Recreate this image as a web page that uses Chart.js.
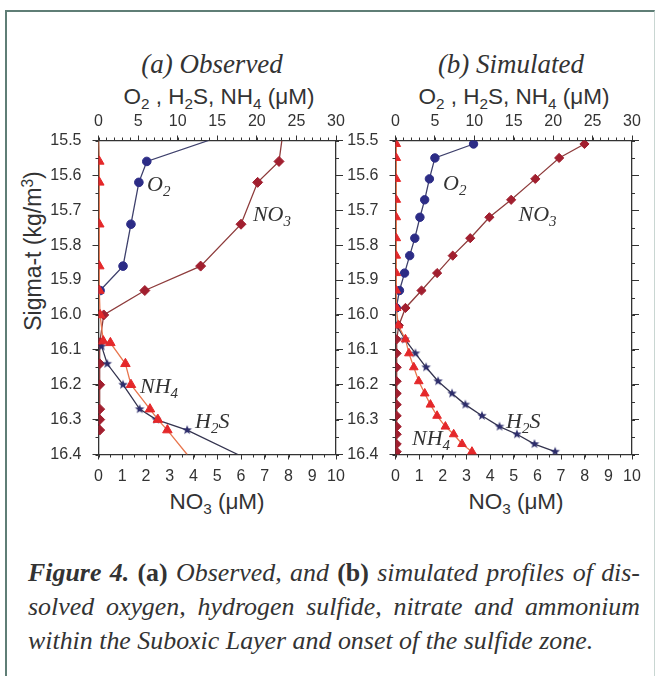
<!DOCTYPE html>
<html><head><meta charset="utf-8">
<script src="https://cdn.jsdelivr.net/npm/chart.js@4.4.0/dist/chart.umd.min.js"></script>
<style>
html,body{margin:0;padding:0;background:#fff;}
body{width:657px;height:676px;position:relative;overflow:hidden;font-family:"Liberation Sans",Arial,sans-serif;color:#333;}
.frame{position:absolute;left:5px;top:10px;width:647px;height:700px;border-left:2.5px solid #5f7e76;border-top:2px solid #5f7e76;border-right:1.5px solid #c9d6d2;}
.t{position:absolute;white-space:nowrap;transform:translate(-50%,-50%);line-height:1;color:#333;}
.ptitle{font-family:"Liberation Serif",serif;font-style:italic;font-size:27px;}
.atitle{font-size:22.5px;}
.rot{transform:translate(-50%,-50%) rotate(-90deg);}
sub{font-size:0.68em;vertical-align:-0.32em;line-height:0;}
canvas{position:absolute;}
.cap{position:absolute;left:28px;width:612px;font-family:"Liberation Serif",serif;font-style:italic;font-size:25.9px;line-height:34px;color:#333;}
.cap b{font-weight:bold;}
.cap .u{font-style:normal;}
.j{text-align:justify;text-align-last:justify;}
</style>
</head><body>
<div class="frame"></div>

<div class="t ptitle" style="left:212px;top:64px;">(a) Observed</div>
<div class="t ptitle" style="left:511px;top:64px;">(b) Simulated</div>
<div class="t atitle" style="left:219px;top:97px;">O<sub>2</sub> , H<sub>2</sub>S, NH<sub>4</sub> (μM)</div>
<div class="t atitle" style="left:514px;top:97px;">O<sub>2</sub> , H<sub>2</sub>S, NH<sub>4</sub> (μM)</div>
<div class="t atitle" style="left:217px;top:502px;">NO<sub>3</sub> (μM)</div>
<div class="t atitle" style="left:516px;top:502px;">NO<sub>3</sub> (μM)</div>
<div class="t atitle rot" style="left:33px;top:251px;font-size:23px;">Sigma-t (kg/m<sup style="font-size:0.68em;vertical-align:0.45em;line-height:0">3</sup>)</div>

<canvas id="ca" width="360" height="400" style="left:0px;top:100px;width:360px;height:400px"></canvas>
<canvas id="cb" width="317" height="400" style="left:340px;top:100px;width:317px;height:400px"></canvas>

<div class="cap j" style="top:556px;"><b>Figure 4.</b> <b class="u">(a)</b> Observed, and <b class="u">(b)</b> simulated profiles of dis-</div>
<div class="cap j" style="top:590px;">solved oxygen, hydrogen sulfide, nitrate and ammonium</div>
<div class="cap" style="top:624px;">within the Suboxic Layer and onset of the sulfide zone.</div>

<script>
// ---------- DATA ----------
// shared axis ranges / ticks
const sigmaRange = [15.5, 16.4];
const topAxisRange = [0, 30];      // O2, H2S, NH4 (uM)
const bottomAxisRange = [0, 10];   // NO3 (uM)

// (a) Observed
const obsO2Sigma  = [15.50, 15.56, 15.62, 15.74, 15.86, 15.93];
const obsO2       = [13.9, 6.1, 5.1, 4.1, 3.1, 0.2];
const obsNO3Sigma = [15.50, 15.56, 15.62, 15.74, 15.86, 15.93, 16.00, 16.08, 16.14, 16.20, 16.27, 16.30, 16.33];
const obsNO3      = [7.72, 7.6, 6.7, 6.0, 4.3, 1.95, 0.22, 0.05, 0.05, 0.05, 0.05, 0.05, 0.05];
const obsNH4Sigma = [15.50, 15.56, 15.62, 15.74, 15.86, 15.93, 16.00, 16.075, 16.08, 16.14, 16.20, 16.27, 16.30, 16.33, 16.40];
const obsNH4      = [0.0, 0.1, 0.1, 0.1, 0.1, 0.1, 0.2, 0.6, 1.5, 3.4, 4.1, 6.5, 7.5, 8.7, 11.2];
const obsH2SSigma = [16.09, 16.14, 16.20, 16.27, 16.30, 16.33, 16.40];
const obsH2S      = [0.4, 1.1, 3.1, 5.2, 7.3, 11.2, 17.6];

// (b) Simulated (model levels)
const simSigma = [15.51, 15.55, 15.61, 15.67, 15.72, 15.78, 15.83, 15.88, 15.93, 15.98, 16.03,
                  16.07, 16.11, 16.15, 16.19, 16.225, 16.257, 16.289, 16.32, 16.342, 16.37, 16.392];
const simO2  = [9.9, 5.0, 4.3, 3.7, 3.1, 2.45, 1.8, 1.15, 0.5, 0.1, null,
                null, null, null, null, null, null, null, null, null, null, null];
const simNO3 = [7.99, 6.92, 5.91, 4.89, 3.97, 3.16, 2.42, 1.76, 1.10, 0.42, 0.14,
                0.05, 0.05, 0.05, 0.05, 0.05, 0.05, 0.05, 0.05, 0.05, 0.05, 0.05];
const simNH4 = [0.1, 0.1, 0.1, 0.1, 0.1, 0.1, 0.1, 0.1, 0.1, 0.15, 0.35,
                1.27, 1.7, 2.32, 2.95, 3.71, 4.43, 5.27, 6.33, 7.38, 8.44, 9.7];
const simH2S = [null, null, null, null, null, null, null, null, null, null, 0.15,
                1.2, 2.53, 3.88, 5.4, 7.17, 8.86, 10.97, 13.2, 15.4, 17.63, 20.25];

// curve labels (in data units: top-axis value, sigma-t)
const labelsA = [
  {main:'O', sub:'2', tail:'', x:6.13, y:15.645},
  {main:'NO', sub:'3', tail:'', x:19.5, y:15.731},
  {main:'NH', sub:'4', tail:'', x:5.24, y:16.225},
  {main:'H', sub:'2', tail:'S', x:12.19, y:16.324}
];
const labelsB = [
  {main:'O', sub:'2', tail:'', x:6.03, y:15.642},
  {main:'NO', sub:'3', tail:'', x:15.6, y:15.731},
  {main:'H', sub:'2', tail:'S', x:14.02, y:16.325},
  {main:'NH', sub:'4', tail:'', x:2.09, y:16.373}
];

// ---------- CHART ----------
Chart.defaults.font.family = '"Liberation Sans", Arial, sans-serif';
Chart.defaults.color = '#333';

function pts(xs, ys) {
  return xs.map((x, i) => ({x: x, y: ys[i]})).filter(p => p.x !== null && p.x !== undefined);
}
function makeStar(color, r) {
  const s = Math.ceil(r * 2 + 2);
  const c = document.createElement('canvas'); c.width = s; c.height = s;
  const g = c.getContext('2d'); g.fillStyle = color; g.beginPath();
  for (let i = 0; i < 10; i++) {
    const a = -Math.PI / 2 + i * Math.PI / 5;
    const rr = (i % 2) ? r * 0.42 : r;
    g.lineTo(s / 2 + rr * Math.cos(a), s / 2 + rr * Math.sin(a));
  }
  g.closePath(); g.fill();
  return c;
}
const starImg = makeStar('#2d2d6b', 5);

const edgeHidden = r => ctx => {
  const v = ctx.raw; if (!v) return r;
  return (v.y <= sigmaRange[0] + 1e-9 || v.y >= sigmaRange[1] - 1e-9) ? 0 : r;
};

const minorTicks = {
  id: 'minorTicks',
  afterDraw(chart, args, opts) {
    const ctx = chart.ctx, ca = chart.chartArea;
    ctx.save(); ctx.strokeStyle = '#333'; ctx.lineWidth = 1;
    for (const m of opts.list) {
      const s = chart.scales[m.id];
      const n = Math.round((s.max - s.min) / m.step);
      for (let i = 0; i <= n; i++) {
        const p = Math.round(s.getPixelForValue(s.min + i * m.step)) + 0.5;
        ctx.beginPath();
        if (s.position === 'top') { ctx.moveTo(p, ca.top); ctx.lineTo(p, ca.top - m.len); }
        else if (s.position === 'bottom') { ctx.moveTo(p, ca.bottom); ctx.lineTo(p, ca.bottom + m.len); }
        else if (s.position === 'left') { ctx.moveTo(ca.left, p); ctx.lineTo(ca.left - m.len, p); }
        else { ctx.moveTo(ca.right, p); ctx.lineTo(ca.right + m.len, p); }
        ctx.stroke();
      }
    }
    ctx.restore();
  }
};
const curveLabels = {
  id: 'curveLabels',
  afterDatasetsDraw(chart, args, opts) {
    const ctx = chart.ctx, xs = chart.scales.xt, ys = chart.scales.y;
    ctx.save(); ctx.fillStyle = '#333'; ctx.textBaseline = 'alphabetic'; ctx.textAlign = 'left';
    const big = 'italic 22px "Liberation Serif", serif', small = 'italic 15px "Liberation Serif", serif';
    for (const l of opts.items) {
      let px = xs.getPixelForValue(l.x); const py = ys.getPixelForValue(l.y);
      ctx.font = big; ctx.fillText(l.main, px, py); px += ctx.measureText(l.main).width;
      ctx.font = small; ctx.fillText(l.sub, px, py + 5); px += ctx.measureText(l.sub).width;
      if (l.tail) { ctx.font = big; ctx.fillText(l.tail, px, py); }
    }
    ctx.restore();
  }
};

function build(canvasId, d, dims, labels, mk) {
  const axisBorder = {display: true, color: '#333', width: 1.3};
  const tickFont = {size: 16};
  const ds = (label, data, xAxisID, lineColor, pointColor, style, radius, order) => ({
    label, data, xAxisID, yAxisID: 'y', order,
    borderColor: lineColor, borderWidth: 1.3, backgroundColor: pointColor,
    pointBackgroundColor: pointColor, pointBorderColor: pointColor, pointBorderWidth: 1,
    pointStyle: style, pointRadius: edgeHidden(radius), pointHoverRadius: 0,
    tension: 0, fill: false
  });
  return new Chart(document.getElementById(canvasId), {
    type: 'line',
    data: {
      datasets: [
        ds('NH4', d.nh4, 'xt', '#e8764e', '#e4282a', 'triangle', mk.tri, 0),
        ds('H2S', d.h2s, 'xt', '#34344f', '#2d2d6b', starImg, 4, 1),
        ds('NO3', d.no3, 'xb', '#8e3c3c', '#a11f2f', 'rectRot', mk.dia, 2),
        ds('O2',  d.o2,  'xt', '#3e406c', '#2c2c86', 'circle', mk.circ, 3)
      ]
    },
    options: {
      responsive: false, animation: false, devicePixelRatio: 1,
      layout: {padding: 0},
      events: [],
      plugins: {
        legend: {display: false}, tooltip: {enabled: false}, title: {display: false},
        minorTicks: {list: [
          {id: 'xt', step: 1, len: 3}, {id: 'xb', step: 0.5, len: 3},
          {id: 'y', step: 0.05, len: 3}, {id: 'yr', step: 0.05, len: 3}
        ]},
        curveLabels: {items: labels}
      },
      scales: {
        xt: {type: 'linear', position: 'top', min: topAxisRange[0], max: topAxisRange[1],
             afterFit: s => { s.height = dims.top; },
             ticks: {stepSize: 5, autoSkip: false, maxRotation: 0, padding: 4, font: tickFont, color: '#333'},
             grid: {drawOnChartArea: false, tickLength: 5, color: '#333'}, border: axisBorder},
        xb: {type: 'linear', position: 'bottom', min: bottomAxisRange[0], max: bottomAxisRange[1],
             afterFit: s => { s.height = dims.bottom; },
             ticks: {stepSize: 1, autoSkip: false, maxRotation: 0, padding: 7, font: tickFont, color: '#333'},
             grid: {drawOnChartArea: false, tickLength: 5, color: '#333'}, border: axisBorder},
        y: {type: 'linear', position: 'left', reverse: true, min: sigmaRange[0], max: sigmaRange[1],
            afterFit: s => { s.width = dims.left; },
            ticks: {stepSize: 0.1, autoSkip: false, padding: 11, font: tickFont, color: '#333',
                    callback: v => Number(v).toFixed(1)},
            grid: {drawOnChartArea: false, tickLength: 6, color: '#333'}, border: axisBorder},
        yr: {type: 'linear', position: 'right', reverse: true, min: sigmaRange[0], max: sigmaRange[1],
             afterFit: s => { s.width = dims.right; },
             ticks: {stepSize: 0.1, display: false},
             grid: {drawOnChartArea: false, tickLength: 7, color: '#333'}, border: axisBorder}
      }
    },
    plugins: [minorTicks, curveLabels]
  });
}

build('ca', {
  o2: pts(obsO2, obsO2Sigma), no3: pts(obsNO3, obsNO3Sigma),
  nh4: pts(obsNH4, obsNH4Sigma), h2s: pts(obsH2S, obsH2SSigma)
}, {top: 40.5, bottom: 45.5, left: 98.5, right: 24}, labelsA, {tri: 5.5, dia: 5, circ: 4.3});

build('cb', {
  o2: pts(simO2, simSigma), no3: pts(simNO3, simSigma),
  nh4: pts(simNH4, simSigma), h2s: pts(simH2S, simSigma)
}, {top: 40.5, bottom: 45.5, left: 55.5, right: 25}, labelsB, {tri: 5, dia: 4.6, circ: 4.2});
</script>
</body></html>
